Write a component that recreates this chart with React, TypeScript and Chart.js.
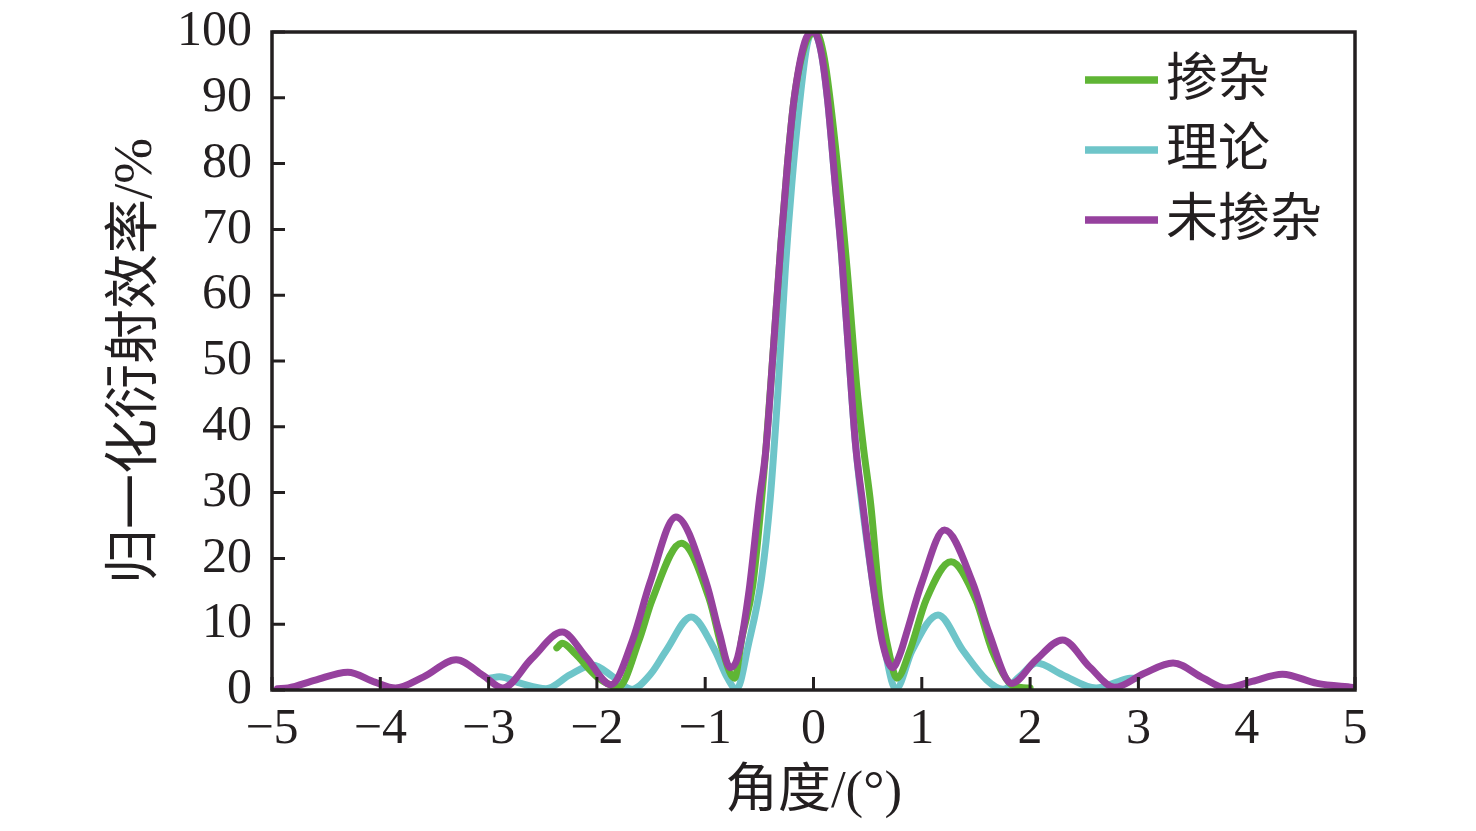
import { useEffect, useRef } from "react";
import { Chart, registerables } from "chart.js";

Chart.register(...registerables);

// ---------- data ----------
const xTickValues = [-5, -4, -3, -2, -1, 0, 1, 2, 3, 4, 5];
const yTickValues = [0, 10, 20, 30, 40, 50, 60, 70, 80, 90, 100];

const seriesLabels = ["掺杂", "理论", "未掺杂"];

// 掺杂 (doped)
const dopedAngle = [-2.37, -2.32, -2.2, -2.0, -1.8, -1.61, -1.49, -1.22, -0.96, -0.84, -0.73, -0.66, -0.56, -0.44, -0.37, -0.3, -0.24, -0.18, -0.08, 0.02, 0.1, 0.2, 0.31, 0.4, 0.46, 0.53, 0.61, 0.7, 0.77, 0.89, 1.04, 1.27, 1.5, 1.65, 1.85, 2.0];
const dopedValue = [6.4, 7.1, 5.5, 2.0, 0.5, 7.6, 13.7, 22.3, 13.7, 6.0, 1.8, 8, 16, 36.5, 52, 68, 80, 89.7, 98, 100, 96, 83, 64, 46, 37, 28, 14, 5.5, 1.8, 6.0, 13.7, 19.5, 13.7, 6.0, 0.6, 0.3];

// 理论 (theory)
const theoryAngle = [-2.99, -2.9, -2.7, -2.47, -2.25, -2.04, -1.85, -1.68, -1.5, -1.36, -1.13, -0.91, -0.8, -0.71, -0.6, -0.48, -0.4, -0.33, -0.26, -0.2, -0.13, -0.06, 0, 0.07, 0.13, 0.2, 0.26, 0.33, 0.39, 0.55, 0.66, 0.76, 0.91, 1.15, 1.38, 1.6, 1.75, 1.9, 2.06, 2.3, 2.61, 2.8, 2.92, 2.99];
const theoryValue = [1.8, 2.0, 1.0, 0.2, 2.3, 3.8, 2.0, 0.1, 2.5, 6.0, 11.1, 6.0, 2.0, 0.1, 7, 17, 29, 45, 64, 77, 89, 98, 100, 97, 89.7, 77, 66, 50, 37, 16, 6, 0.1, 6.0, 11.4, 6.0, 1.5, 0.1, 2.0, 4.1, 2.3, 0.3, 1.2, 1.8, 1.8];

// 未掺杂 (undoped)
const undopedAngle = [-4.95, -4.85, -4.6, -4.3, -4.05, -3.86, -3.6, -3.3, -3.05, -2.87, -2.6, -2.32, -2.1, -1.87, -1.67, -1.51, -1.27, -0.99, -0.87, -0.77, -0.7, -0.6, -0.5, -0.44, -0.37, -0.3, -0.24, -0.18, -0.08, 0, 0.07, 0.13, 0.2, 0.26, 0.33, 0.39, 0.45, 0.55, 0.64, 0.73, 0.8, 0.86, 1.0, 1.21, 1.47, 1.62, 1.83, 2.05, 2.3, 2.55, 2.78, 3.05, 3.32, 3.6, 3.81, 4.05, 4.33, 4.65, 4.98];
const undopedValue = [0.2, 0.3, 1.5, 2.7, 1.2, 0.3, 2.0, 4.6, 2.2, 0.3, 4.8, 8.8, 5.0, 0.8, 7.6, 16.3, 26.3, 16.3, 8.7, 3.4, 5.0, 14.5, 28.9, 36.5, 52, 68, 80, 89.7, 98.5, 100, 97, 89.7, 77, 66, 50, 37, 28.9, 16.0, 7.0, 3.4, 5.5, 8.7, 16.3, 24.3, 16.3, 8.7, 1.0, 4.5, 7.6, 3.5, 0.4, 2.5, 4.1, 1.8, 0.3, 1.3, 2.4, 1.0, 0.4];

// ---------- styles ----------
const GREEN = "#5fb535";
const CYAN = "#6ec5c9";
const PURPLE = "#96419e";
const AXIS = "#231f20";
const SERIF = "'Liberation Serif', 'Noto Sans CJK SC', serif";

const zip = (xs: number[], ys: number[]) => xs.map((x, i) => ({ x, y: ys[i] }));
const fmt = (v: number) => (v < 0 ? "\u2212" + Math.abs(v) : String(v));

const framePlugin = {
  id: "frameAndLegend",
  afterDraw(chart: any) {
    const { ctx, chartArea: a, scales } = chart;
    ctx.save();
    ctx.strokeStyle = AXIS;
    ctx.lineWidth = 3;
    ctx.beginPath();
    xTickValues.forEach((v) => {
      const px = scales.x.getPixelForValue(v);
      ctx.moveTo(px, a.bottom);
      ctx.lineTo(px, a.bottom - 13);
    });
    yTickValues.forEach((v) => {
      const py = scales.y.getPixelForValue(v);
      ctx.moveTo(a.left, py);
      ctx.lineTo(a.left + 13, py);
    });
    ctx.stroke();
    ctx.lineWidth = 3.5;
    ctx.strokeRect(a.left, a.top, a.right - a.left, a.bottom - a.top);

    // legend
    ctx.font = `52px ${SERIF}`;
    ctx.textBaseline = "middle";
    ctx.textAlign = "left";
    chart.data.datasets.forEach((ds: any, i: number) => {
      const cy = a.top + 48 + i * 70;
      ctx.strokeStyle = ds.borderColor;
      ctx.lineWidth = 7.5;
      ctx.beginPath();
      ctx.moveTo(a.right - 270, cy);
      ctx.lineTo(a.right - 197, cy);
      ctx.stroke();
      ctx.fillStyle = AXIS;
      ctx.fillText(ds.label, a.right - 189, cy + 2);
    });
    ctx.restore();
  },
};

export default function App() {
  const ref = useRef<HTMLCanvasElement | null>(null);
  useEffect(() => {
    document.body.style.margin = "0";
    if (!ref.current) return;
    const chart = new Chart(ref.current, {
      type: "line",
      data: {
        datasets: [
          { label: seriesLabels[0], data: zip(dopedAngle, dopedValue), borderColor: GREEN, backgroundColor: GREEN, order: 1 },
          { label: seriesLabels[1], data: zip(theoryAngle, theoryValue), borderColor: CYAN, backgroundColor: CYAN, order: 2 },
          { label: seriesLabels[2], data: zip(undopedAngle, undopedValue), borderColor: PURPLE, backgroundColor: PURPLE, order: 0 },
        ],
      },
      options: {
        animation: false,
        responsive: false,
        devicePixelRatio: 1,
        layout: { padding: { left: 0, top: 32, right: 121, bottom: 0 } },
        elements: {
          point: { radius: 0 },
          line: { borderWidth: 7, cubicInterpolationMode: "monotone", borderCapStyle: "round", borderJoinStyle: "round" },
        },
        plugins: { legend: { display: false }, tooltip: { enabled: false } },
        scales: {
          x: {
            type: "linear",
            min: -5,
            max: 5,
            afterFit: (s: any) => { s.height = 141; s.paddingLeft = 0; s.paddingRight = 0; },
            afterBuildTicks: (s: any) => { s.ticks = xTickValues.map((v) => ({ value: v })); },
            grid: { display: false, drawTicks: false },
            border: { display: false },
            ticks: { padding: 10, color: AXIS, font: { family: SERIF, size: 50 }, callback: (v: any) => fmt(Number(v)), maxRotation: 0, autoSkip: false },
            title: { display: true, text: "角度/(°)", color: AXIS, font: { family: SERIF, size: 53 }, padding: { top: 0, bottom: 6 } },
          },
          y: {
            min: 0,
            max: 100,
            afterFit: (s: any) => { s.width = 272; s.paddingTop = 0; s.paddingBottom = 0; },
            afterBuildTicks: (s: any) => { s.ticks = yTickValues.map((v) => ({ value: v })); },
            grid: { display: false, drawTicks: false },
            border: { display: false },
            ticks: { padding: 20, color: AXIS, font: { family: SERIF, size: 50 }, callback: (v: any) => fmt(Number(v)), autoSkip: false },
            title: { display: true, text: "归一化衍射效率/%", color: AXIS, font: { family: SERIF, size: 55 }, padding: { top: 104, bottom: 0 } },
          },
        },
      },
      plugins: [framePlugin],
    } as any);
    return () => chart.destroy();
  }, []);
  return (
    <div style={{ position: "absolute", left: 0, top: 0, width: 1476, height: 831, background: "#fff" }}>
      <canvas ref={ref} width={1476} height={831} style={{ display: "block", width: 1476, height: 831 }} />
    </div>
  );
}
